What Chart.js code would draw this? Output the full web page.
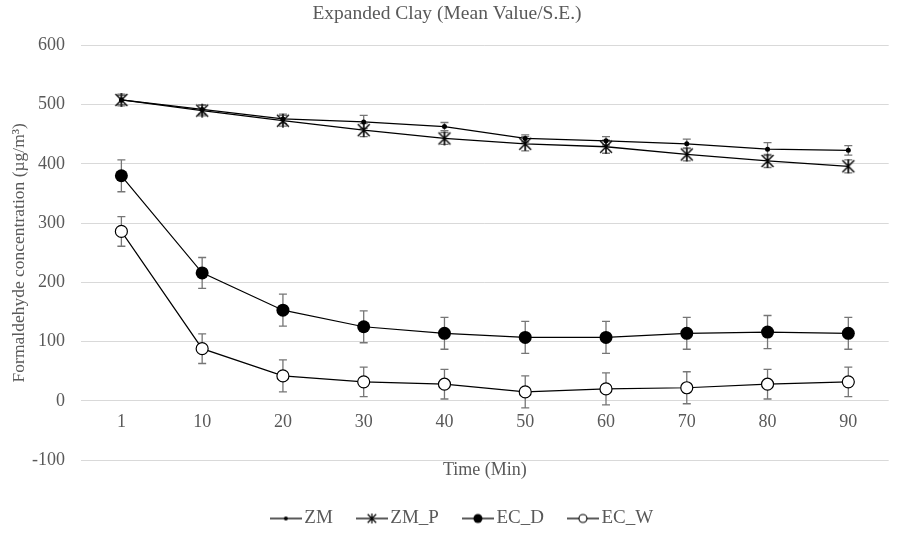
<!DOCTYPE html>
<html lang="en">
<head>
<meta charset="UTF-8">
<title>Expanded Clay (Mean Value/S.E.)</title>
<script src="https://cdn.jsdelivr.net/npm/chart.js@4.4.3/dist/chart.umd.min.js"></script>
<style>
  html, body { margin: 0; padding: 0; background: #fff; }
</style>
</head>
<body>
<canvas id="chart" width="898" height="535"></canvas>
<script>
// time points (minutes)
const timeLabels = ['1', '10', '20', '30', '40', '50', '60', '70', '80', '90'];

// mean values, µg/m3
const zmValues   = [508, 492, 476, 471, 463, 443, 439, 434, 425, 423];
const zmpValues  = [508, 490, 473, 457, 443, 434, 429, 416, 405, 396];
const ecdValues  = [380, 216, 153, 125, 114, 107, 107, 114, 116, 114];
const ecwValues  = [286, 88, 42, 32, 28, 15, 20, 22, 28, 32];

// standard errors
const zmErr  = [10, 8, 8, 11, 7, 6, 7, 8, 11, 8];
const zmpErr = [8, 9, 9, 11, 10, 12, 11, 11, 11, 11];
const ecdErr = [27, 26, 27, 27, 27, 27, 27, 27, 28, 27];
const ecwErr = [25, 25, 27, 25, 25, 27, 27, 27, 25, 25];

const seriesNames = ['ZM', 'ZM_P', 'EC_D', 'EC_W'];
const errorSets = [zmErr, zmpErr, ecdErr, ecwErr];

const FONT = 'Liberation Serif, Times New Roman, serif';
const TEXT = '#595959';

// Excel-like star marker: X with a vertical stroke
function makeStar(size, lw) {
  const c = document.createElement('canvas');
  c.width = size; c.height = size;
  const g = c.getContext('2d');
  const m = size / 2, r = size / 2 - 1;
  g.strokeStyle = '#000';
  g.lineWidth = lw;
  g.beginPath();
  g.moveTo(m - r * 0.85, m - r * 0.85); g.lineTo(m + r * 0.85, m + r * 0.85);
  g.moveTo(m + r * 0.85, m - r * 0.85); g.lineTo(m - r * 0.85, m + r * 0.85);
  g.moveTo(m, m - r); g.lineTo(m, m + r);
  g.stroke();
  return c;
}

// legend sample: short line with a marker in the middle
function makeSample(kind) {
  const w = 32, h = 16, cx = w / 2, cy = h / 2;
  const c = document.createElement('canvas');
  c.width = w; c.height = h;
  const g = c.getContext('2d');
  g.strokeStyle = '#000';
  g.lineWidth = 1.3;
  g.beginPath(); g.moveTo(0, cy); g.lineTo(w, cy); g.stroke();
  if (kind === 'ZM_P') {
    g.drawImage(makeStar(12, 1.2), cx - 6, cy - 6);
  } else {
    const r = kind === 'ZM' ? 2 : kind === 'EC_D' ? 4.5 : 4;
    g.beginPath(); g.arc(cx, cy, r, 0, Math.PI * 2);
    g.fillStyle = kind === 'EC_W' ? '#fff' : '#000';
    g.fill();
    if (kind === 'EC_W') { g.lineWidth = 1.1; g.stroke(); }
  }
  return c;
}

const starMarker = makeStar(16, 1.4);
const samples = seriesNames.map(makeSample);

const errorBars = {
  id: 'errorBars',
  beforeDatasetsDraw(chart) {
    const { ctx } = chart;
    const x = chart.scales.x, y = chart.scales.y;
    ctx.save();
    ctx.strokeStyle = '#767676';
    ctx.lineWidth = 1.3;
    chart.data.datasets.forEach((ds, i) => {
      const err = errorSets[i];
      ds.data.forEach((v, j) => {
        const px = x.getPixelForValue(j);
        const top = y.getPixelForValue(v + err[j]);
        const bot = y.getPixelForValue(v - err[j]);
        ctx.beginPath();
        ctx.moveTo(px, top); ctx.lineTo(px, bot);
        ctx.moveTo(px - 4, top); ctx.lineTo(px + 4, top);
        ctx.moveTo(px - 4, bot); ctx.lineTo(px + 4, bot);
        ctx.stroke();
      });
    });
    ctx.restore();
  }
};

// nudge the legend row a little to the right, as in the original
const legendShift = {
  id: 'legendShift',
  afterLayout(chart) {
    chart.legend.left += 36;
  }
};

new Chart(document.getElementById('chart'), {
  type: 'line',
  data: {
    labels: timeLabels,
    datasets: [
      { label: 'ZM', data: zmValues, borderColor: '#000', borderWidth: 1.3,
        pointStyle: 'circle', pointRadius: 2.5, pointBackgroundColor: '#000', pointBorderColor: '#000', pointBorderWidth: 0 },
      { label: 'ZM_P', data: zmpValues, borderColor: '#000', borderWidth: 1.3,
        pointStyle: starMarker, pointRadius: 8 },
      { label: 'EC_D', data: ecdValues, borderColor: '#000', borderWidth: 1.2,
        pointStyle: 'circle', pointRadius: 6.5, pointBackgroundColor: '#000', pointBorderColor: '#000', pointBorderWidth: 0 },
      { label: 'EC_W', data: ecwValues, borderColor: '#000', borderWidth: 1.2,
        pointStyle: 'circle', pointRadius: 6, pointBackgroundColor: '#fff', pointBorderColor: '#000', pointBorderWidth: 1.2 }
    ]
  },
  options: {
    responsive: false,
    animation: false,
    layout: { padding: { left: 0, right: 4, top: 0, bottom: -3 } },
    plugins: {
      title: {
        display: true,
        text: 'Expanded Clay (Mean Value/S.E.)',
        color: TEXT,
        font: { family: FONT, size: 19.5, weight: 'normal' },
        padding: { top: 1.8, bottom: 20.3 }
      },
      legend: {
        position: 'bottom',
        labels: {
          usePointStyle: true,
          pointStyleWidth: 18,
          padding: 30,
          color: TEXT,
          font: { family: FONT, size: 19 },
          generateLabels: (chart) => chart.data.datasets.map((ds, i) => ({
            text: ds.label,
            pointStyle: samples[i],
            fillStyle: '#000',
            strokeStyle: '#000',
            lineWidth: 0,
            fontColor: TEXT,
            hidden: false,
            datasetIndex: i
          }))
        }
      },
      tooltip: { enabled: false }
    },
    scales: {
      x: {
        type: 'category',
        position: { y: 0 },
        offset: true,
        grid: { display: false, drawTicks: false },
        border: { display: false },
        ticks: { color: TEXT, padding: 11, font: { family: FONT, size: 18 } }
      },
      xTitle: {
        type: 'category',
        position: 'bottom',
        offset: true,
        grid: { display: false, drawTicks: false },
        border: { display: false },
        ticks: { display: false },
        title: {
          display: true,
          text: 'Time (Min)',
          color: TEXT,
          font: { family: FONT, size: 18 },
          padding: { top: 0, bottom: -2 }
        },
        afterFit: (s) => { s.height = 19; }
      },
      y: {
        min: -100,
        max: 600,
        ticks: { stepSize: 100, color: TEXT, padding: 16, font: { family: FONT, size: 18 } },
        grid: { color: '#d9d9d9', lineWidth: 1, drawTicks: false },
        border: { display: false },
        title: {
          display: true,
          text: 'Formaldehyde concentration (µg/m³)',
          color: TEXT,
          font: { family: FONT, size: 17.5 },
          padding: { top: 9, bottom: 0 }
        },
        afterFit: (s) => { s.width = 81; }
      }
    }
  },
  plugins: [errorBars, legendShift]
});
</script>
</body>
</html>
